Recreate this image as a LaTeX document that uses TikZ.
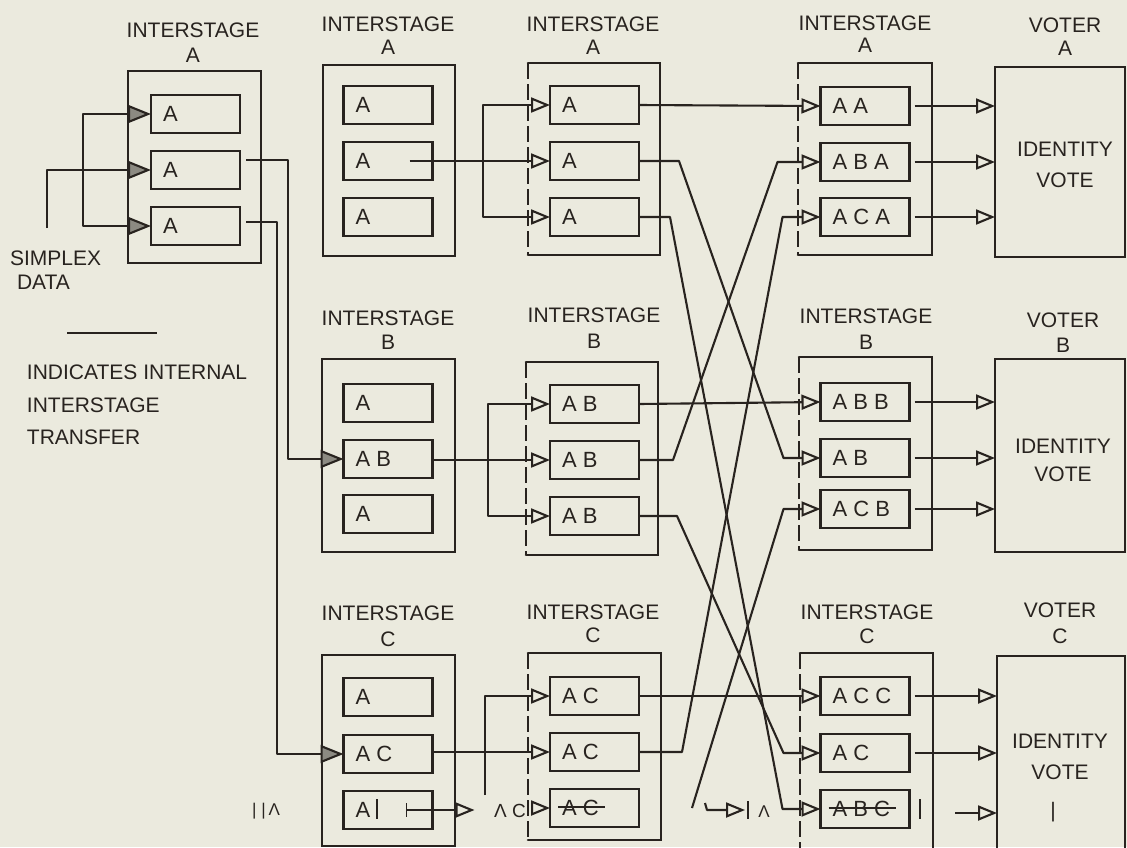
\documentclass[tikz,border=0pt]{standalone}
\usepackage{fontspec}
\setmainfont{Liberation Sans}
\usetikzlibrary{arrows.meta,calc}
\definecolor{paper}{RGB}{235,234,222}
\definecolor{ink}{RGB}{40,35,31}
\definecolor{wedgefill}{RGB}{140,138,130}

% an inner register box with its left-set label
\newcommand\slotbox[3]{%
  \node[slot] (#1) at (#2) {};
  \node[lbl] (#1t) at ([xshift=12pt]#1.west) {#3};}
% a stage frame: name, centre, width, height, style
\newcommand\stagebox[5]{%
  \node[#5,minimum width=#3pt,minimum height=#4pt] (#1) at (#2) {};}

\begin{document}
\begin{tikzpicture}[x=1pt,y=-1pt,
  every node/.style={text=ink,inner sep=0pt,outer sep=0pt,font=\fontsize{21}{24}\selectfont},
  lbl/.style={anchor=west,font=\fontsize{22}{24}\selectfont},
  slot/.style={draw=ink,line width=2.6pt,minimum width=89pt,minimum height=38pt},
  boxed/.style={draw=ink,line width=2.6pt},
  openframe/.style={draw=none},
  edgeline/.style={draw=ink,line width=2.6pt,line cap=round},
  wire/.style={draw=ink,line width=2.1pt,line join=round},
  oarrow/.style={wire,-{Triangle[open,length=19pt,width=15pt]}},
  garrow/.style={wire,-{Triangle[length=23pt,width=18pt,fill=wedgefill]}},
  tick/.style={draw=ink,line width=1.8pt},
]
\useasboundingbox (0,0) rectangle (1127,847);
\clip (0,0) rectangle (1127,847);
\fill[paper] (0,0) rectangle (1127,847);

% ---------------- stage frames ----------------
\stagebox{o1a}{194.5,167}{133}{192}{boxed}
\stagebox{o2a}{389,160.5}{132}{191}{boxed}
\stagebox{o2b}{388.5,455.5}{133}{193}{boxed}
\stagebox{o2c}{388.5,750.5}{133}{191}{boxed}
\stagebox{o3a}{594,159}{132}{192}{openframe}
\stagebox{o3b}{592,458.5}{132}{193}{openframe}
\stagebox{o3c}{594.5,746.5}{133}{187}{openframe}
\stagebox{o4a}{865,159}{134}{192}{openframe}
\stagebox{o4b}{865.5,453.5}{133}{193}{openframe}
\stagebox{o4c}{866.5,756.5}{133}{207}{openframe}
\foreach \o in {o3a,o3b,o3c,o4a,o4b,o4c}{
  \draw[edgeline] (\o.south west) -- (\o.south east) -- (\o.north east) -- (\o.north west);
  \draw[edgeline,line cap=butt,dash pattern=on 16pt off 5pt] (\o.north west) -- (\o.south west);
}
\stagebox{va}{1060,162}{130}{190}{boxed}
\stagebox{vb}{1060,455.5}{130}{193}{boxed}
\stagebox{vc}{1061,758}{128}{204}{boxed}

% ---------------- titles ----------------
\node (t1) at (193,30) {INTERSTAGE};  \node (t1l) at (193,55) {A};
\node (t2a) at (388,24) {INTERSTAGE}; \node (t2al) at (388,47) {A};
\node (t3a) at (593,24) {INTERSTAGE}; \node (t3al) at (593,47) {A};
\node (t4a) at (865,23) {INTERSTAGE}; \node (t4al) at (865,45) {A};
\node (tva) at (1065,25) {VOTER};     \node (tval) at (1065,48) {A};
\node (t2b) at (388,318) {INTERSTAGE}; \node (t2bl) at (388,342) {B};
\node (t3b) at (594,315) {INTERSTAGE}; \node (t3bl) at (594,341) {B};
\node (t4b) at (866,316) {INTERSTAGE}; \node (t4bl) at (866,342) {B};
\node (tvb) at (1063,320) {VOTER};     \node (tvbl) at (1063,345) {B};
\node (t2c) at (388,613) {INTERSTAGE}; \node (t2cl) at (388,639) {C};
\node (t3c) at (593,612) {INTERSTAGE}; \node (t3cl) at (593,635) {C};
\node (t4c) at (867,612) {INTERSTAGE}; \node (t4cl) at (867,636) {C};
\node (tvc) at (1060,610) {VOTER};     \node (tvcl) at (1060,636) {C};

\node (ida) at (1065,149) {IDENTITY}; \node (vta) at (1065,180) {VOTE};
\node (idb) at (1063,446) {IDENTITY}; \node (vtb) at (1063,474) {VOTE};
\node (idc) at (1060,741) {IDENTITY}; \node (vtc) at (1060,772) {VOTE};
\node (barc) at (1053,812) {|};

% ---------------- left legend ----------------
\node[anchor=west] (simp) at (10,258) {SIMPLEX};
\node[anchor=west] (data) at (17,282) {DATA};
\draw[wire] (67,333) -- (157,333);
\node[anchor=west] (leg1) at (27,372) {INDICATES INTERNAL};
\node[anchor=west] (leg2) at (27,405) {INTERSTAGE};
\node[anchor=west] (leg3) at (27,437) {TRANSFER};

% ---------------- register boxes ----------------
\slotbox{c1a1}{195.5,114}{A}
\slotbox{c1a2}{195.5,170}{A}
\slotbox{c1a3}{195.5,226}{A}

\slotbox{c2a1}{388,105}{A}
\slotbox{c2a2}{388,161}{A}
\slotbox{c2a3}{388,217}{A}
\slotbox{c2b1}{388,403}{A}
\slotbox{c2b2}{388,459}{A B}
\slotbox{c2b3}{388,514}{A}
\slotbox{c2c1}{388,697}{A}
\slotbox{c2c2}{388,754}{A C}
\slotbox{c2c3}{388,810}{A}

\slotbox{c3a1}{594.5,105}{A}
\slotbox{c3a2}{594.5,161}{A}
\slotbox{c3a3}{594.5,217}{A}
\slotbox{c3b1}{594.5,404}{A B}
\slotbox{c3b2}{594.5,460}{A B}
\slotbox{c3b3}{594.5,516}{A B}
\slotbox{c3c1}{594.5,696}{A C}
\slotbox{c3c2}{594.5,752}{A C}
\slotbox{c3c3}{594.5,808}{A C}

\slotbox{c4a1}{865,106}{A A}
\slotbox{c4a2}{865,162}{A B A}
\slotbox{c4a3}{865,217}{A C A}
\slotbox{c4b1}{865,402}{A B B}
\slotbox{c4b2}{865,458}{A B}
\slotbox{c4b3}{865,509}{A C B}
\slotbox{c4c1}{865,696}{A C C}
\slotbox{c4c2}{865,753}{A C}
\slotbox{c4c3}{865,809}{A B C}

% overwritten entries in the bottom row
\draw[tick] (377,799) -- (377,819);
\draw[tick,line width=1.3pt] ($(c3c3t.west)+(-4,-1)$) -- ($(c3c3t.east)+(6,-1)$);
\draw[tick,line width=1.3pt] ($(c4c3t.west)+(-4,-1)$) -- ($(c4c3t.east)+(6,-1)$);
\draw[tick] (920,799) -- (920,819);

% ---------------- simplex input into interstage A ----------------
\coordinate (sin) at (47,228);
\coordinate (fan1) at (83,170);
\draw[garrow] (sin) -- (47,170) -- (c1a2.west);
\draw[garrow] (fan1) |- (c1a1.west);
\draw[garrow] (fan1) |- (c1a3.west);

% transfers to interstages B and C
\draw[garrow] ($(c1a2.east)+(6,-10)$) -- ++(42,0) |- (c2b2.west);
\draw[garrow] ($(c1a3.east)+(6,-4)$) -- ++(31,0) |- (c2c2.west);

% ---------------- internal fan-out in each interstage ----------------
\coordinate (fa) at ($(c3a2.west)+(-67,0)$);
\draw[oarrow] ($(c2a2.east |- c3a2.west)+(-23,0)$) -- (c3a2.west);
\draw[oarrow] (fa) |- (c3a1.west);
\draw[oarrow] (fa) |- (c3a3.west);

\coordinate (fb) at ($(c3b2.west)+(-62,0)$);
\draw[oarrow] (c2b2.east |- c3b2.west) -- (c3b2.west);
\draw[oarrow] (fb) |- (c3b1.west);
\draw[oarrow] (fb) |- (c3b3.west);

\coordinate (fc) at ($(c3c2.west)+(-65,0)$);
\draw[oarrow] (c2c2.east |- c3c2.west) -- (c3c2.west);
\draw[oarrow] ($(fc)+(0,43)$) |- (c3c1.west);

% broken third path of interstage C
\draw[tick] ($(c2c3.east)+(-26,-7)$) -- ++(0,14);
\draw[oarrow] ($(c2c3.east)+(-26,0)$) -- ++(68,0);
\node[font=\fontsize{19}{20}\selectfont] (gl2) at (510,811) {Λ C};
\draw[oarrow] ($(c3c3.west)+(-19,0)$) -- (c3c3.west);
\node[font=\fontsize{17}{20}\selectfont] (gl1) at (266,811) {| |\,Λ};

% ---------------- crossed exchange between interstages ----------------
\draw[oarrow] (c3a1.east) -- (c4a1.west);
\draw[oarrow] (c3a2.east) -- ++(40,0) -- ($(c4b2.west)+(-37,0)$) -- (c4b2.west);
\draw[oarrow] (c3a3.east) -- ++(31,0) -- ($(c4c3.west)+(-38,0)$) -- (c4c3.west);

\draw[oarrow] (c3b1.east) -- (c4b1.west);
\draw[oarrow] (c3b2.east) -- ++(34,0) -- ($(c4a2.west)+(-43,0)$) -- (c4a2.west);
\draw[oarrow] (c3b3.east) -- ++(38,0) -- ($(c4c2.west)+(-37,0)$) -- (c4c2.west);

\draw[oarrow] (c3c1.east) -- (c4c1.west);
\draw[oarrow] (c3c2.east) -- ++(43,0) -- ($(c4a3.west)+(-38,0)$) -- (c4a3.west);
\coordinate (gc) at (692,808);
\draw[oarrow] (gc) -- ($(c4b3.west)+(-37,0)$) -- (c4b3.west);

% broken marks beside the last exchange
\coordinate (gd) at (705,803);
\draw[oarrow] (gd) -- ++(2,7) -- ++(38,0);
\draw[tick] (748,801) -- (748,819);
\node[font=\fontsize{17}{20}\selectfont] (gl3) at (764,812) {Λ};

% ---------------- into the voters ----------------
\foreach \s/\v in {c4a1/va,c4a2/va,c4a3/va,c4b1/vb,c4b2/vb,c4b3/vb,c4c1/vc,c4c2/vc}{
  \draw[oarrow] ($(\s.east)+(5,0)$) -- (\s.east -| \v.west);
}
\draw[oarrow] ($(c4c3.east -| vc.west)+(-42,4)$) -- ++(42,0);
\end{tikzpicture}
\end{document}
